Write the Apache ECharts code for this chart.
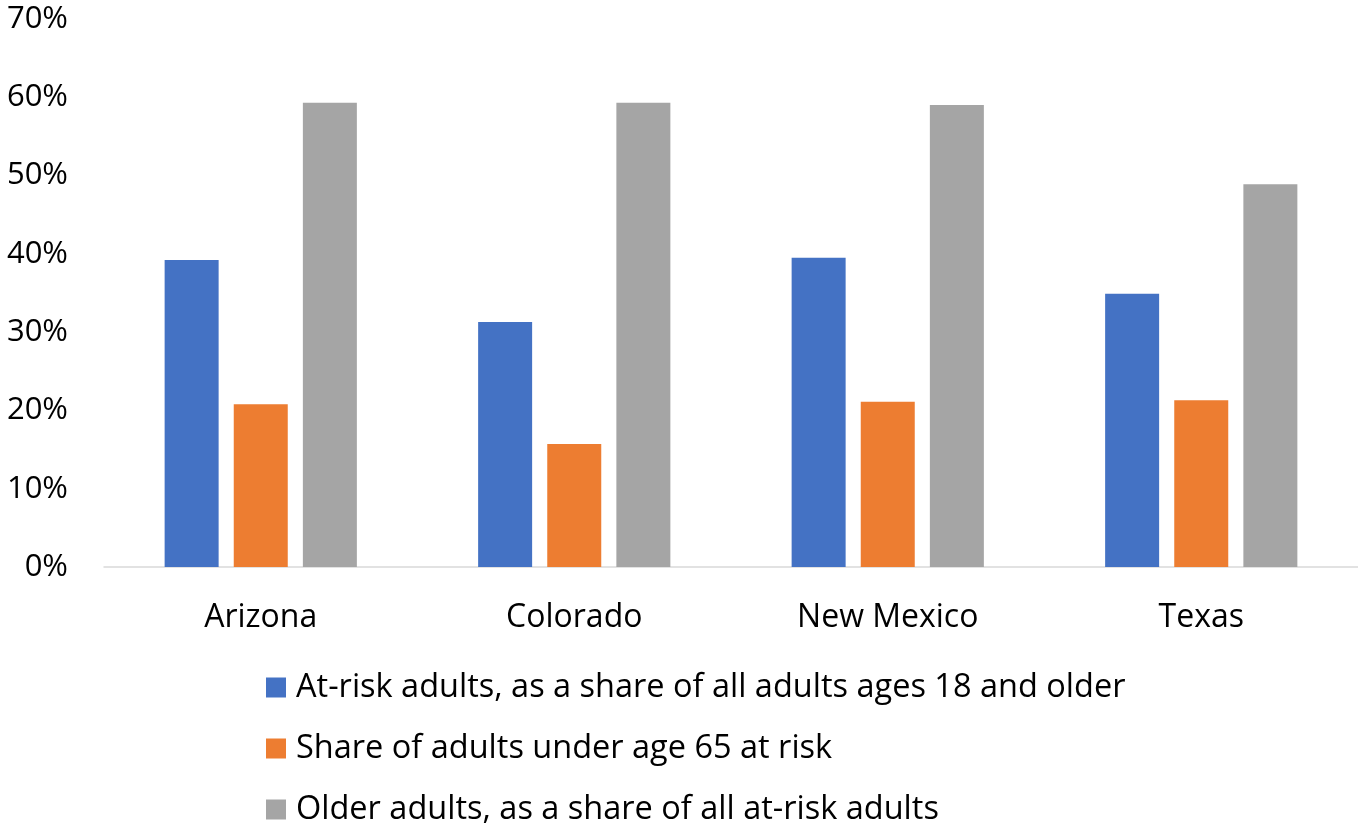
<!DOCTYPE html>
<html>
<head>
<meta charset="utf-8">
<script src="https://cdn.jsdelivr.net/npm/echarts@6/dist/echarts.min.js"></script>
<style>
  html, body { margin: 0; padding: 0; background: #fff; }
  #chart { width: 1358px; height: 827px; }
</style>
</head>
<body>
<div id="chart"></div>
<script>
// States compared
const states = ['Arizona', 'Colorado', 'New Mexico', 'Texas'];

// Series names
const seriesNames = [
  'At-risk adults, as a share of all adults ages 18 and older',
  'Share of adults under age 65 at risk',
  'Older adults, as a share of all at-risk adults'
];

// Values in percent
const atRiskAdults = [39.2, 31.3, 39.5, 34.9];
const under65AtRisk = [20.8, 15.7, 21.1, 21.3];
const olderShareOfAtRisk = [59.3, 59.3, 59.0, 48.9];

const colors = ['#4472C4', '#ED7D31', '#A5A5A5'];
const fontFamily = '"Open Sans", Lato, sans-serif';

const chart = echarts.init(document.getElementById('chart'));

const dataSets = [atRiskAdults, under65AtRisk, olderShareOfAtRisk];

chart.setOption({
  animation: false,
  textStyle: { fontFamily: fontFamily },
  grid: { left: 104, right: 0, top: 19, bottom: 260, containLabel: false },
  legend: {
    orient: 'vertical',
    left: 261,
    top: 666,
    height: 160,
    itemWidth: 20,
    itemHeight: 20,
    itemGap: 28,
    icon: 'rect',
    textStyle: {
      fontSize: 32.5, lineHeight: 32, color: '#000', fontFamily: fontFamily,
      padding: [0, 0, 0, 5]
    },
    data: seriesNames
  },
  xAxis: {
    type: 'category',
    data: states,
    axisLine: { lineStyle: { color: '#D9D9D9', width: 1.5 } },
    axisTick: { show: false },
    axisLabel: { fontSize: 32, color: '#000', margin: 35, fontFamily: fontFamily }
  },
  yAxis: {
    type: 'value',
    min: 0,
    max: 70,
    interval: 10,
    splitLine: { show: false },
    axisLine: { show: false },
    axisTick: { show: false },
    axisLabel: {
      fontSize: 31, color: '#000', margin: 36, fontFamily: fontFamily,
      formatter: v => v + '%'
    }
  },
  series: dataSets.map((d, i) => ({
    name: seriesNames[i],
    type: 'bar',
    data: d,
    barWidth: 54,
    barGap: '28%',
    itemStyle: { color: colors[i] }
  }))
});
</script>
</body>
</html>
